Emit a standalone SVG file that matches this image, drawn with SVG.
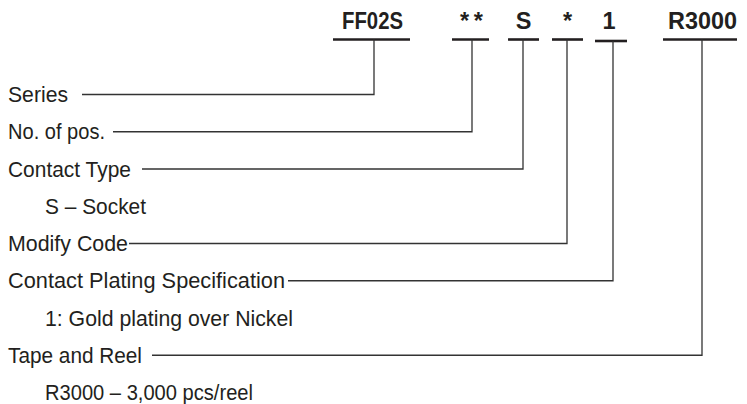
<svg xmlns="http://www.w3.org/2000/svg" width="747" height="404" viewBox="0 0 747 404">
<style>
.lbl{font-family:"Liberation Sans",Arial,sans-serif;font-size:21.5px;fill:#231f20}
.code{font-family:"Liberation Sans",Arial,sans-serif;font-size:23.5px;font-weight:bold;fill:#231f20}
.ul{stroke:#231f20;stroke-width:2.6;fill:none}
.con{stroke:#333;stroke-width:1.3;fill:none}
</style>
<rect width="747" height="404" fill="#fff"/>
<g id="codes">
<g id="code-ff02s"><text class="code" x="342" y="29" textLength="61" lengthAdjust="spacingAndGlyphs">FF02S</text><line class="ul" x1="333" y1="39.5" x2="410" y2="39.5"/></g>
<g id="code-pos"><text class="code" x="460" y="29" textLength="23" lengthAdjust="spacing">**</text><line class="ul" x1="452" y1="39.5" x2="489" y2="39.5"/></g>
<g id="code-s"><text class="code" x="523.5" y="29" text-anchor="middle">S</text><line class="ul" x1="508" y1="39.5" x2="539" y2="39.5"/></g>
<g id="code-mod"><text class="code" x="567.5" y="29" text-anchor="middle">*</text><line class="ul" x1="552" y1="39.5" x2="583" y2="39.5"/></g>
<g id="code-1"><text class="code" x="609" y="29" text-anchor="middle">1</text><line class="ul" x1="595" y1="41" x2="627" y2="41"/></g>
<g id="code-r3000"><text class="code" x="668" y="29" textLength="69" lengthAdjust="spacingAndGlyphs">R3000</text><line class="ul" x1="663" y1="39.5" x2="737" y2="39.5"/></g>
</g>
<g id="labels">
<g id="lbl-series"><text class="lbl" x="8" y="102" textLength="60" lengthAdjust="spacingAndGlyphs">Series</text></g>
<g id="lbl-pos"><text class="lbl" x="8" y="139.25" textLength="97" lengthAdjust="spacingAndGlyphs">No. of pos.</text></g>
<g id="lbl-type"><text class="lbl" x="8" y="176.5" textLength="123" lengthAdjust="spacingAndGlyphs">Contact Type</text></g>
<g id="lbl-socket"><text class="lbl" x="45" y="213.75" textLength="101" lengthAdjust="spacingAndGlyphs">S – Socket</text></g>
<g id="lbl-modify"><text class="lbl" x="8" y="251" textLength="120" lengthAdjust="spacingAndGlyphs">Modify Code</text></g>
<g id="lbl-plating"><text class="lbl" x="8" y="288.25" textLength="277" lengthAdjust="spacingAndGlyphs">Contact Plating Specification</text></g>
<g id="lbl-gold"><text class="lbl" x="45" y="325.5" textLength="248" lengthAdjust="spacingAndGlyphs">1: Gold plating over Nickel</text></g>
<g id="lbl-reel"><text class="lbl" x="8" y="362.75" textLength="134" lengthAdjust="spacingAndGlyphs">Tape and Reel</text></g>
<g id="lbl-r3000"><text class="lbl" x="45" y="400" textLength="208" lengthAdjust="spacingAndGlyphs">R3000 – 3,000 pcs/reel</text></g>
</g>
<g id="connectors">
<polyline class="con" points="374,39.5 374,94.5 82,94.5"/>
<polyline class="con" points="472,39.5 472,131.75 113,131.75"/>
<polyline class="con" points="523,39.5 523,169 142,169"/>
<polyline class="con" points="567,39.5 567,243.5 129,243.5"/>
<polyline class="con" points="613,41 613,280.75 288,280.75"/>
<polyline class="con" points="702,39.5 702,355.25 152,355.25"/>
</g>
</svg>
